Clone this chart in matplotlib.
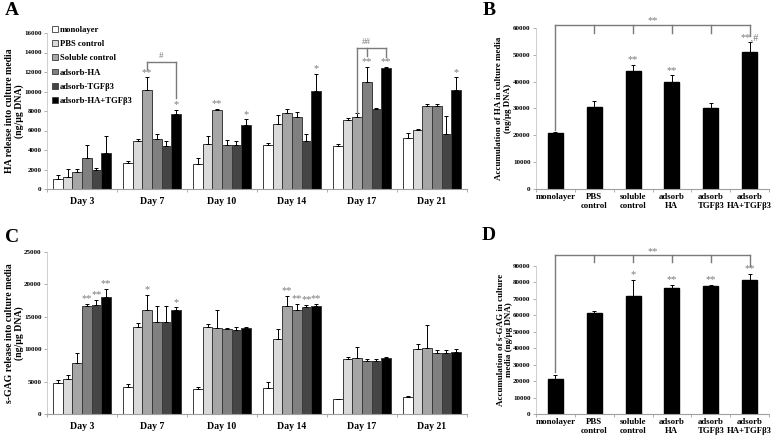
import matplotlib
matplotlib.use("Agg")
import matplotlib.pyplot as plt
from matplotlib.patches import Patch
import numpy as np

plt.rcParams['font.family'] = ['Liberation Serif', 'DejaVu Serif']
plt.rcParams['font.weight'] = 'bold'

# ---------------- data ----------------
days = ['Day 3', 'Day 7', 'Day 10', 'Day 14', 'Day 17', 'Day 21']
series_names = ['monolayer', 'PBS control', 'Soluble control', 'adsorb-HA',
                'adsorb-TGFβ3', 'adsorb-HA+TGFβ3']

# Panel A: HA release (ng/ug DNA)
ha_mono = [1000, 2700, 2550, 4550, 4400, 5250]
ha_pbs = [1200, 4900, 4600, 6700, 7100, 6100]
ha_sol = [1750, 10200, 8150, 7800, 7350, 8550]
ha_ha = [3150, 5150, 4500, 7400, 11000, 8500]
ha_tgf = [1900, 4450, 4500, 4900, 8200, 5600]
ha_both = [3700, 7700, 6550, 10100, 12450, 10200]
ha_mono_err = [450, 200, 600, 200, 250, 450]
ha_pbs_err = [900, 250, 850, 900, 150, 80]
ha_sol_err = [280, 1250, 50, 400, 400, 170]
ha_ha_err = [1350, 450, 550, 500, 1550, 200]
ha_tgf_err = [270, 450, 450, 700, 100, 1900]
ha_both_err = [1700, 450, 580, 1700, 60, 1250]

# Panel C: s-GAG release
gag_mono = [4800, 4200, 3800, 4000, 2270, 2680]
gag_pbs = [5350, 13350, 13450, 11550, 8500, 10000]
gag_sol = [7800, 16050, 13300, 16600, 8600, 10150]
gag_ha = [16600, 14150, 13150, 16100, 8250, 9400]
gag_tgf = [16850, 14150, 12900, 16500, 8200, 9400]
gag_both = [18100, 16000, 13300, 16700, 8650, 9600]
gag_mono_err = [400, 400, 350, 1000, 100, 100]
gag_pbs_err = [600, 750, 450, 1550, 350, 750]
gag_sol_err = [1650, 2300, 2750, 1650, 1800, 3600]
gag_ha_err = [350, 2500, 100, 900, 300, 500]
gag_tgf_err = [700, 2500, 450, 300, 350, 500]
gag_both_err = [1250, 450, 50, 300, 200, 450]

# Panel B / D: accumulation
acc_cats = ['monolayer', 'PBS\ncontrol', 'soluble\ncontrol', 'adsorb\nHA',
            'adsorb\nTGFβ3', 'adsorb\nHA+TGFβ3']
ha_accum = [20800, 30700, 44100, 40000, 30000, 51000]
ha_accum_err = [500, 2000, 2000, 2300, 2200, 3600]
gag_accum = [21300, 61700, 71800, 76900, 77700, 81700]
gag_accum_err = [2200, 1200, 9900, 1800, 1000, 3300]

# significance marks: (day index, series index, text)
ha_stars = [(1, 2, '**'), (1, 5, '*'), (2, 2, '**'), (2, 5, '*'), (3, 5, '*'),
            (4, 3, '**'), (4, 5, '**'), (5, 5, '*')]
gag_stars = [(0, 3, '**'), (0, 4, '**'), (0, 5, '**'), (1, 2, '*'), (1, 5, '*'),
             (3, 2, '**'), (3, 3, '**'), (3, 4, '**'), (3, 5, '**')]
ha_accum_stars = [(2, '**'), (3, '**'), (5, '**,#')]
gag_accum_stars = [(2, '*'), (3, '**'), (4, '**'), (5, '**')]

colors = ['#ffffff', '#dadada', '#a6a6a6', '#808080', '#454545', '#000000']
edge = '#3a3a3a'
mark_col = '#7a7a7a'

W, H = 778, 443
fig = plt.figure(figsize=(W / 100, H / 100), dpi=100)


def ax_px(l, t, r, b):
    return fig.add_axes([l / W, 1 - b / H, (r - l) / W, (b - t) / H])


def style_axis(ax, ymax, step, ylabel, lx, lsize):
    ax.set_ylim(0, ymax)
    ax.set_xlim(-0.5, 5.5)
    ax.set_yticks(np.arange(0, ymax + 1, step))
    ax.set_yticklabels([str(int(v)) for v in np.arange(0, ymax + 1, step)])
    for s in ['top', 'right']:
        ax.spines[s].set_visible(False)
    ax.spines['left'].set_color('#c8c8c8')
    ax.spines['bottom'].set_color('#a0a0a0')
    ax.spines['left'].set_linewidth(0.6)
    ax.spines['bottom'].set_linewidth(0.8)
    ax.tick_params(axis='y', labelsize=5, length=2, width=0.6, color='#a0a0a0', pad=2)
    ax.set_xticks(np.arange(6))
    ax.set_xticks(np.arange(-0.5, 6, 1), minor=True)
    ax.tick_params(axis='x', which='major', length=0, pad=6)
    ax.tick_params(axis='x', which='minor', length=2, width=0.6, color='#a0a0a0')
    ax.set_ylabel(ylabel, fontsize=lsize, fontweight='bold', linespacing=1.1)
    ax.yaxis.set_label_coords(lx, 0.5)


def grouped(ax, means, errs, stars):
    n = len(means)
    w = 0.136
    x = np.arange(len(days))
    tops = []
    for i, (m, e) in enumerate(zip(means, errs)):
        xs = x + (i - (n - 1) / 2) * w
        ax.bar(xs, m, w, color=colors[i], edgecolor=edge, linewidth=0.7, zorder=2)
        ax.errorbar(xs, m, yerr=[np.zeros(len(m)), e], fmt='none', ecolor='black',
                    elinewidth=0.7, capsize=1.3, capthick=0.7, zorder=3)
        tops.append((xs, np.array(m) + np.array(e)))
    for d, s, t in stars:
        xs, tp = tops[s]
        ax.annotate(t, (xs[d], tp[d]), xytext=(0, 0.5), textcoords='offset points',
                    ha='center', va='bottom', fontsize=7.5, color=mark_col,
                    fontweight='normal', annotation_clip=False)
    ax.set_xticklabels(days, fontsize=7)
    return tops


def simple(ax, vals, errs, stars):
    x = np.arange(len(vals))
    ax.bar(x, vals, 0.39, color='black', edgecolor='black', zorder=2)
    ax.errorbar(x, vals, yerr=[np.zeros(len(vals)), errs], fmt='none', ecolor='black',
                elinewidth=0.7, capsize=1.3, capthick=0.7, zorder=3)
    top = np.array(vals) + np.array(errs)
    for i, t in stars:
        ax.annotate(t, (x[i], top[i]), xytext=(0, 0.5), textcoords='offset points',
                    ha='center', va='bottom', fontsize=7.5, color=mark_col,
                    fontweight='normal', annotation_clip=False)
    ax.set_xticklabels(acc_cats, fontsize=6.3, linespacing=1.15)
    return top


def bracket_all(ax, y, tick_y, first_y, last_y, label_y):
    kw = dict(color=mark_col, lw=1.0, clip_on=False, zorder=4)
    ax.plot([0, 5], [y, y], **kw)
    ax.plot([0, 0], [y, first_y], **kw)
    for i in range(1, 5):
        ax.plot([i, i], [y, tick_y], **kw)
    ax.plot([5, 5], [y, last_y], **kw)
    ax.text(2.5, label_y, '**', ha='center', va='center', fontsize=7.5,
            color=mark_col, fontweight='normal')


# ---------------- Panel A ----------------
axA = ax_px(47, 33, 467, 189)
style_axis(axA, 16000, 2000, 'HA release into culture media\n(ng/μg DNA)', -0.055, 7)
topsA = grouped(axA, [ha_mono, ha_pbs, ha_sol, ha_ha, ha_tgf, ha_both],
                [ha_mono_err, ha_pbs_err, ha_sol_err, ha_ha_err, ha_tgf_err, ha_both_err],
                ha_stars)
kw = dict(color=mark_col, lw=1.0, clip_on=False, zorder=4)
# Day 7 bracket (#)
xl, xr = topsA[2][0][1], topsA[5][0][1]
axA.plot([xl, xr], [13000, 13000], **kw)
axA.plot([xl, xl], [13000, 12300], **kw)
axA.plot([xr, xr], [13000, 9300], **kw)
axA.text((xl + xr) / 2, 13250, '#', ha='center', va='bottom', fontsize=6.5,
         color=mark_col, fontweight='normal')
# Day 17 bracket (##)
xl, xm, xr = topsA[2][0][4], topsA[3][0][4], topsA[5][0][4]
axA.plot([xl, xr], [14450, 14450], **kw)
axA.plot([xl, xl], [14450, 7800], **kw)
axA.plot([xm, xm], [14450, 13600], **kw)
axA.plot([xr, xr], [14450, 13500], **kw)
axA.text(xm, 14650, '##', ha='center', va='bottom', fontsize=6.5,
         color=mark_col, fontweight='normal')
handles = [Patch(facecolor=c, edgecolor=edge, linewidth=0.6) for c in colors]
axA.legend(handles, series_names, loc='upper left', bbox_to_anchor=(0.012, 1.045),
           frameon=False, handlelength=0.65, handleheight=0.65,
           handletextpad=0.25, labelspacing=0.72, borderpad=0, borderaxespad=0,
           prop={'weight': 'bold', 'size': 6.2})

# ---------------- Panel B ----------------
axB = ax_px(536, 28, 769, 189)
style_axis(axB, 60000, 10000, 'Accumulation of HA in culture media\n(ng/μg DNA)', -0.105, 6.5)
axB.tick_params(axis='x', which='major', pad=3)
simple(axB, ha_accum, ha_accum_err, ha_accum_stars)
bracket_all(axB, 61100, 58100, 22100, 56900, 62700)

# ---------------- Panel C ----------------
axC = ax_px(47, 252, 467, 414)
style_axis(axC, 25000, 5000, 's-GAG release into culture media\n(ng/μg DNA)', -0.055, 7)
grouped(axC, [gag_mono, gag_pbs, gag_sol, gag_ha, gag_tgf, gag_both],
        [gag_mono_err, gag_pbs_err, gag_sol_err, gag_ha_err, gag_tgf_err, gag_both_err],
        gag_stars)

# ---------------- Panel D ----------------
axD = ax_px(536, 266, 769, 414)
style_axis(axD, 90000, 10000, 'Accumulation of s-GAG in culture\nmedia (ng/μg DNA)', -0.097, 6.5)
axD.tick_params(axis='x', which='major', pad=3)
simple(axD, gag_accum, gag_accum_err, gag_accum_stars)
bracket_all(axD, 96700, 92400, 25700, 89800, 99000)

# panel letters
for lab, x, y in [('A', 5, 2), ('B', 483, 2), ('C', 5, 229), ('D', 482, 227)]:
    fig.text(x / W, 1 - y / H, lab, ha='left', va='top', fontsize=14,
             fontweight='bold')

fig.savefig('out.png', dpi=100)
